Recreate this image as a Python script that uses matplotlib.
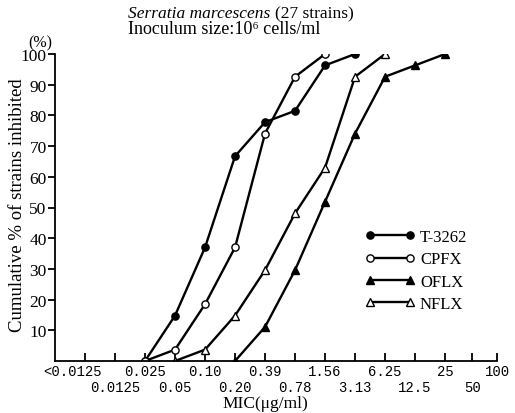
import matplotlib
matplotlib.use("Agg")
import matplotlib.pyplot as plt
import numpy as np

plt.rcParams['font.family'] = ['Liberation Serif', 'DejaVu Serif']

# Data
mic_labels = ["<0.0125", "0.0125", "0.025", "0.05", "0.10", "0.20", "0.39",
              "0.78", "1.56", "3.13", "6.25", "12.5", "25", "50", "100"]
series = {
    "T-3262": (["0.025", "0.05", "0.10", "0.20", "0.39", "0.78", "1.56", "3.13"],
               [0, 14.8, 37.0, 66.7, 77.8, 81.5, 96.3, 100]),
    "CPFX": (["0.025", "0.05", "0.10", "0.20", "0.39", "0.78", "1.56"],
             [0, 3.7, 18.5, 37.0, 74.1, 92.6, 100]),
    "OFLX": (["0.20", "0.39", "0.78", "1.56", "3.13", "6.25", "12.5", "25"],
             [0, 11.1, 29.6, 51.9, 74.1, 92.6, 96.3, 100]),
    "NFLX": (["0.05", "0.10", "0.20", "0.39", "0.78", "1.56", "3.13", "6.25"],
             [0, 3.7, 14.8, 29.6, 48.1, 63.0, 92.6, 100]),
}
styles = {
    "T-3262": dict(marker='o', mfc='black'),
    "CPFX": dict(marker='o', mfc='white'),
    "OFLX": dict(marker='^', mfc='black'),
    "NFLX": dict(marker='^', mfc='white'),
}
y_ticks = [10, 20, 30, 40, 50, 60, 70, 80, 90, 100]

fig = plt.figure(figsize=(5.15, 4.14), dpi=100)
ax = fig.add_axes([55/515, 1-362/414, (497-55)/515, (362-55)/414])

tick_pos = np.arange(len(mic_labels), dtype=float)
tick_pos[-2] = 12.9
tick_pos[-1] = 13.73
pos_of = {lab: tick_pos[i] for i, lab in enumerate(mic_labels)}

for name, (xs, ys) in series.items():
    ax.plot([pos_of[x] for x in xs], ys, color='black', lw=1.7,
            markersize=5.2, mec='black', mew=1.0, label=name,
            **styles[name])

ax.set_xlim(-1, 13.73)
ax.set_ylim(0, 100)
ax.spines['top'].set_visible(False)
ax.spines['right'].set_visible(False)
for s in ['left', 'bottom']:
    ax.spines[s].set_linewidth(1.3)

ax.set_yticks(y_ticks)
ax.set_yticklabels([str(v) for v in y_ticks], fontsize=12.5)
ax.tick_params(axis='y', direction='out', length=5, width=1.3, pad=1)

ax.set_xticks(tick_pos)
ax.set_xticklabels([])
ax.tick_params(axis='x', direction='in', length=6, width=1.3)
for i, lab in enumerate(mic_labels):
    yoff = -0.033 if i % 2 == 0 else -0.085
    xoff = -0.4 if i == 0 else 0
    ax.text(tick_pos[i] + xoff, yoff, lab, transform=ax.get_xaxis_transform(),
            ha='center', va='center', fontsize=10,
            family=['Liberation Mono', 'DejaVu Sans Mono'])

fig.text(265/515, 1-404/414, "MIC(\u03bcg/ml)", ha='center', va='center', fontsize=12.5)
fig.text(18/515, 1-205/414, "Cumulative % of strains inhibited", rotation=90,
         ha='center', va='center', fontsize=13.5)
fig.text(40/515, 1-43/414, "(%)", ha='center', va='center', fontsize=11.5)

fig.text(128/515, 1-14/414, "Serratia marcescens", style='italic',
         ha='left', va='center', fontsize=12.5)
fig.text(275/515, 1-14/414, "(27 strains)", ha='left', va='center', fontsize=12.5)
fig.text(128/515, 1-30/414, "Inoculum size:10\u2076 cells/ml", ha='left',
         va='center', fontsize=13)

ax.legend(loc='upper left', bbox_to_anchor=(310/442, 1-(230-55)/307),
          frameon=False, numpoints=2, handlelength=3.0, fontsize=12,
          labelspacing=0.38, handletextpad=0.3, borderpad=0, borderaxespad=0)

fig.savefig("out.png", dpi=100)
